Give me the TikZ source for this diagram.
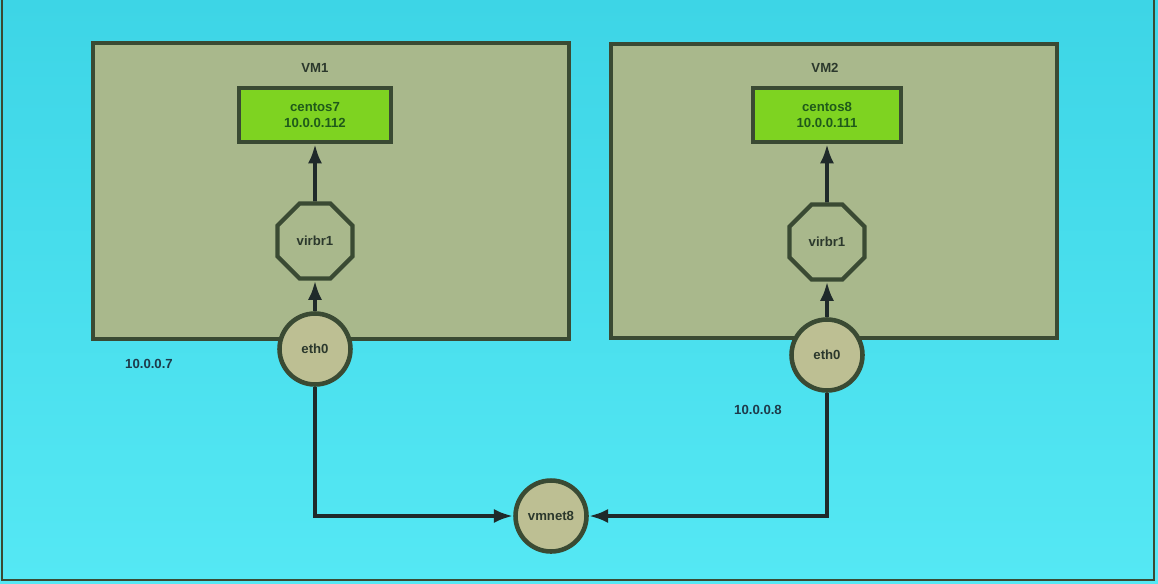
\documentclass[tikz,border=0pt]{standalone}
\usepackage{fontspec}
\setmainfont{Liberation Sans}
\usetikzlibrary{arrows.meta,shapes.geometric}
\definecolor{skytop}{HTML}{3DD5E6}
\definecolor{skybot}{HTML}{55E8F4}
\definecolor{khaki}{HTML}{A9B88C}
\definecolor{disc}{HTML}{BDBF93}
\definecolor{leaf}{HTML}{7ED321}
\definecolor{edge}{HTML}{3A4A33}
\definecolor{wire}{HTML}{1F2A2A}
\definecolor{ink}{HTML}{2B382C}
\definecolor{guestink}{HTML}{1F5A1A}
\definecolor{addrink}{HTML}{1E3A4A}

\begin{document}
\begin{tikzpicture}[x=0.02cm, y=-0.02cm,
		every node/.style={font=\fontsize{7.5}{9}\selectfont\bfseries, text=ink},
		vmbox/.style={draw=edge, line width=2.2pt, fill=khaki, inner sep=0pt},
		guest/.style={draw=edge, line width=2.2pt, fill=leaf, text=guestink, minimum width=3.04cm, minimum height=1.08cm, align=center},
		bridge/.style={regular polygon, regular polygon sides=8, draw=edge, line width=2.4pt, fill=khaki, minimum size=1.62cm, inner sep=0pt},
		nic/.style={circle, draw=edge, line width=2.6pt, fill=disc, minimum size=1.42cm, inner sep=0pt},
		addr/.style={text=addrink},
		link/.style={line width=2.2pt, draw=wire, -{Latex[length=11pt,width=8pt]}}]
	\useasboundingbox (0,0) rectangle (1158,583);
	\shade [top color=skytop, bottom color=skybot] (0,0) rectangle (1158,583);
	\draw [edge, line width=1.6pt] (2,0) -- (2,580) -- (1154,580) -- (1154,0);
	% virtual machines
	\node [vmbox, minimum width=9.52cm, minimum height=5.92cm] (vm1) at (331,191) {};
	\node [vmbox, minimum width=8.92cm, minimum height=5.88cm] (vm2) at (834,191) {};
	\node (vm1label) at (315,68) {VM1};
	\node (vm2label) at (825,68) {VM2};
	\node [guest] (centos7) at (315,115) {centos7\\10.0.0.112};
	\node [guest, minimum width=2.96cm] (centos8) at (827,115) {centos8\\10.0.0.111};
	\node [bridge] (virbr1a) at (315,241) {virbr1};
	\node [bridge] (virbr1b) at (827,242) {virbr1};
	\node [nic] (eth0a) at (315,349) {eth0};
	\node [nic] (eth0b) at (827,355) {eth0};
	\node [nic] (vmnet8) at (551,516) {vmnet8};
	\node [addr] (ipa) at (149,364) {10.0.0.7};
	\node [addr] (ipb) at (758,410) {10.0.0.8};
	% links
	\draw [link] (eth0a) -- (virbr1a);
	\draw [link] (virbr1a) -- (centos7);
	\draw [link] (eth0b) -- (virbr1b);
	\draw [link] (virbr1b) -- (centos8);
	\draw [link] (eth0a.south) |- (vmnet8.west);
	\draw [link] (eth0b.south) |- (vmnet8.east);
\end{tikzpicture}
\end{document}
